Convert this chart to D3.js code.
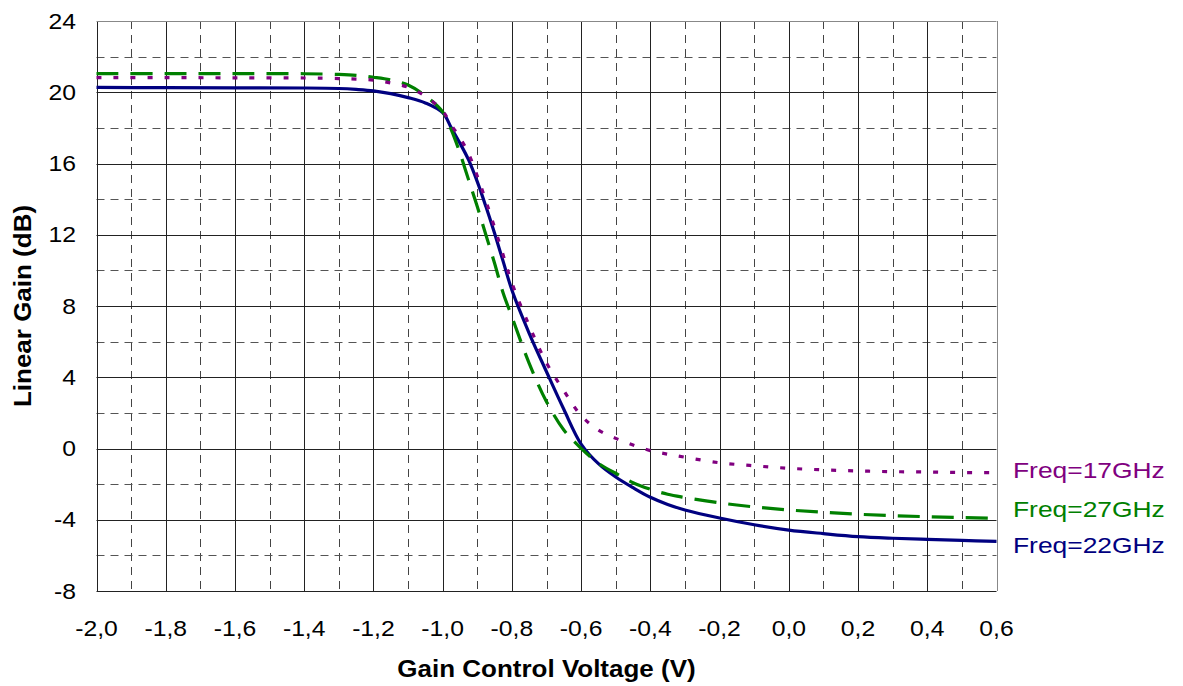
<!DOCTYPE html>
<html>
<head>
<meta charset="utf-8">
<script src="https://cdn.jsdelivr.net/npm/d3@7"></script>
<style>
  html, body { margin: 0; padding: 0; background: #fff; }
  svg { display: block; font-family: Arial, "Liberation Sans", sans-serif; }
</style>
</head>
<body>
<svg id="chart" width="1183" height="686"></svg>
<script>
// ---- data ----
const voltage = [-2.0,-1.8,-1.6,-1.4,-1.3,-1.25,-1.2,-1.15,-1.1,-1.05,-1.0,-0.975,-0.95,-0.925,-0.9,-0.875,-0.85,-0.825,-0.8,-0.75,-0.7,-0.65,-0.6,-0.55,-0.5,-0.45,-0.4,-0.35,-0.3,-0.2,-0.1,0.0,0.1,0.2,0.3,0.4,0.5,0.6];
const gain17 = [20.82,20.82,20.81,20.8,20.77,20.74,20.68,20.52,20.28,19.78,18.95,18.15,17.45,16.55,15.3,13.9,12.4,10.85,9.3,6.9,4.8,3.25,1.85,1.04,0.57,0.2,-0.12,-0.32,-0.49,-0.8,-0.97,-1.11,-1.2,-1.26,-1.3,-1.32,-1.35,-1.36];
const gain27 = [21.05,21.05,21.05,21.04,21.0,20.95,20.84,20.69,20.41,19.8,18.9,17.89,16.58,15.08,13.58,11.99,10.4,8.71,7.4,4.78,2.63,1.04,0.01,-0.83,-1.39,-1.92,-2.29,-2.57,-2.75,-3.05,-3.28,-3.45,-3.58,-3.69,-3.77,-3.83,-3.88,-3.92];
const gain22 = [20.27,20.26,20.25,20.24,20.21,20.16,20.08,19.92,19.7,19.4,18.85,18.0,17.14,16.2,14.98,13.58,12.08,10.49,8.9,6.47,4.31,2.2,0.25,-0.85,-1.6,-2.2,-2.74,-3.14,-3.45,-3.9,-4.28,-4.58,-4.78,-4.95,-5.04,-5.1,-5.16,-5.21];
const seriesNames = ["Freq=17GHz", "Freq=27GHz", "Freq=22GHz"];
const xTicks = [-2.0,-1.8,-1.6,-1.4,-1.2,-1.0,-0.8,-0.6,-0.4,-0.2,0.0,0.2,0.4,0.6];
const xMinor = [-1.9,-1.7,-1.5,-1.3,-1.1,-0.9,-0.7,-0.5,-0.3,-0.1,0.1,0.3,0.5];
const yTicks = [-8,-4,0,4,8,12,16,20,24];
const yMinor = [-6,-2,2,6,10,14,18,22];
const xTitle = "Gain Control Voltage (V)";
const yTitle = "Linear Gain (dB)";

// ---- layout ----
const L = 96.5, R = 996.5, T = 21, B = 591;
const svg = d3.select("#chart");
const x = d3.scaleLinear().domain([-2.0, 0.6]).range([L, R]);
const y = d3.scaleLinear().domain([-8, 24]).range([B, T]);

function addText(g, px, py, str, o) {
  const t = g.append("text")
    .attr("transform", `translate(${px},${py})` + (o.rot ? ` rotate(${o.rot})` : "") + ` scale(${o.sx||1},1)`)
    .attr("font-size", o.size)
    .attr("font-weight", o.bold ? "bold" : "normal")
    .attr("text-anchor", o.anchor || "start")
    .attr("fill", o.fill || "#000")
    .text(str);
  if (o.dy) t.attr("dy", o.dy);
  return t;
}

// ---- grid ----
const grid = svg.append("g");
grid.selectAll(".vminor").data(xMinor).join("line")
  .attr("x1", d => Math.round(x(d)) + 0.5).attr("x2", d => Math.round(x(d)) + 0.5)
  .attr("y1", T).attr("y2", B)
  .attr("stroke", "#444").attr("stroke-width", 1).attr("stroke-dasharray", "8,6");
grid.selectAll(".hminor").data(yMinor).join("line")
  .attr("y1", d => Math.round(y(d)) + 0.5).attr("y2", d => Math.round(y(d)) + 0.5)
  .attr("x1", L).attr("x2", R)
  .attr("stroke", "#555").attr("stroke-width", 1).attr("stroke-dasharray", "8,6");
grid.selectAll(".vmajor").data(xTicks).join("line")
  .attr("x1", d => Math.round(x(d)) + 0.5).attr("x2", d => Math.round(x(d)) + 0.5)
  .attr("y1", T).attr("y2", B)
  .attr("stroke", (d, i) => i === xTicks.length - 1 ? "#888" : "#222").attr("stroke-width", 1);
grid.selectAll(".hmajor").data(yTicks).join("line")
  .attr("y1", d => Math.round(y(d)) + 0.5).attr("y2", d => Math.round(y(d)) + 0.5)
  .attr("x1", L).attr("x2", R)
  .attr("stroke", d => d === 24 ? "#888" : "#222").attr("stroke-width", 1);

// ---- axes labels ----
const fmt = d => d3.format(".1f")(d).replace(".", ",").replace("−", "-");
const labels = svg.append("g");
xTicks.forEach(d => addText(labels, x(d), 636, fmt(d), {size: 21.5, sx: 1.15, anchor: "middle"}));
yTicks.forEach(d => addText(labels, 76, y(d), String(d), {size: 21.5, sx: 1.15, anchor: "end", dy: "0.36em"}));
addText(labels, (L + R) / 2, 677, xTitle, {size: 23, sx: 1.13, anchor: "middle", bold: true});
addText(labels, 31, (T + B) / 2, yTitle, {size: 23, sx: 1.13, anchor: "middle", bold: true, rot: -90});

// ---- series ----
const line = d3.line().x(d => x(d[0])).y(d => y(d[1])).curve(d3.curveCatmullRom.alpha(0.5));
const series = [
  {name: seriesNames[2], vals: gain22, color: "#000080", width: 3.2, dash: null, ly: 553},
  {name: seriesNames[1], vals: gain27, color: "#008000", width: 3.2, dash: "22,12", ly: 517},
  {name: seriesNames[0], vals: gain17, color: "#800080", width: 3.2, dash: "5,12", ly: 478}
];
const lines = svg.append("g");
series.forEach(s => {
  const pts = voltage.map((v, i) => [v, s.vals[i]]);
  const p = lines.append("path").datum(pts)
    .attr("d", line).attr("fill", "none")
    .attr("stroke", s.color).attr("stroke-width", s.width);
  if (s.dash) p.attr("stroke-dasharray", s.dash);
  addText(svg, 1013, s.ly, s.name, {size: 22, sx: 1.2, fill: s.color});
});
</script>
</body>
</html>
